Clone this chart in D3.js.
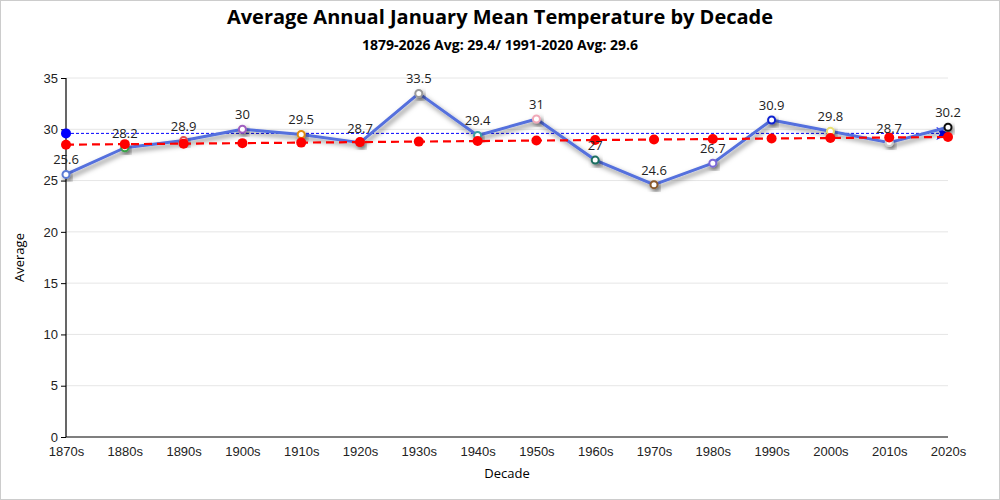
<!DOCTYPE html>
<html>
<head>
<meta charset="utf-8">
<script src="https://cdn.jsdelivr.net/npm/d3@7"></script>
<style>
  body { margin: 0; background: #fff; }
  svg { display: block; font-family: "Segoe UI", "Open Sans", "Noto Sans", sans-serif; }
</style>
</head>
<body>
<svg id="chart" width="1000" height="500"></svg>
<script>
// data
var decades = ["1870s","1880s","1890s","1900s","1910s","1920s","1930s","1940s",
               "1950s","1960s","1970s","1980s","1990s","2000s","2010s","2020s"];
var averages = [25.6, 28.2, 28.9, 30, 29.5, 28.7, 33.5, 29.4, 31, 27, 24.6, 26.7, 30.9, 29.8, 28.7, 30.2];
var trend = [28.5, 28.55, 28.6, 28.65, 28.7, 28.75, 28.8, 28.85, 28.9, 28.95, 29.0, 29.05, 29.1, 29.15, 29.2, 29.25];
var pointColors = ["#5b7bd5","#3ba24a","#e05050","#a05ec0","#e08a10","#888888","#999999","#3aa0a0",
                   "#f0a8b8","#1f6f60","#8b5a2b","#7a68d8","#1020d0","#e8e070","#cccccc","#111111"];
var normal = 29.6;
var yTicks = [0, 5, 10, 15, 20, 25, 30, 35];

var svg = d3.select("#chart");
var margin = {left: 66, right: 52, top: 78, bottom: 63};
var W = 1000, H = 500;

// border
svg.append("rect")
  .attr("x", 0.5).attr("y", 0.5)
  .attr("width", W - 1).attr("height", H - 1)
  .attr("fill", "#fff").attr("stroke", "#ccc");

var x = d3.scalePoint().domain(decades).range([margin.left, W - margin.right]);
var y = d3.scaleLinear().domain([0, 35]).range([H - margin.bottom, margin.top]);

var defs = svg.append("defs");
var f = defs.append("filter").attr("id", "shadow")
  .attr("x", "-50%").attr("y", "-50%").attr("width", "200%").attr("height", "200%");
f.append("feDropShadow").attr("dx", 2).attr("dy", 3).attr("stdDeviation", 2.5)
  .attr("flood-color", "#000").attr("flood-opacity", 0.5);
defs.append("marker").attr("id", "arrow")
  .attr("viewBox", "0 0 10 10").attr("refX", 9).attr("refY", 5)
  .attr("markerWidth", 16).attr("markerHeight", 13).attr("markerUnits", "userSpaceOnUse")
  .attr("orient", "auto")
  .append("path").attr("d", "M0,0 L10,5 L0,10 L3,5 Z").attr("fill", "#0000ff");

// grid
svg.append("g").selectAll("line").data(yTicks.slice(1)).join("line")
  .attr("x1", margin.left).attr("x2", W - margin.right)
  .attr("y1", d => y(d)).attr("y2", d => y(d))
  .attr("stroke", "#e6e6e6");

// titles
svg.append("text").attr("x", W / 2).attr("y", 24).attr("text-anchor", "middle")
  .attr("font-size", 20).attr("font-weight", "bold")
  .text("Average Annual January Mean Temperature by Decade");
svg.append("text").attr("x", W / 2).attr("y", 50).attr("text-anchor", "middle")
  .attr("font-size", 14).attr("font-weight", "bold")
  .text("1879-2026 Avg: 29.4/ 1991-2020 Avg: 29.6");

// axes
var yAxis = svg.append("g").attr("transform", "translate(" + margin.left + ",0)")
  .call(d3.axisLeft(y).tickValues(yTicks).tickSize(5).tickPadding(3));
yAxis.select(".domain").attr("d", "M0," + y(35) + "V" + y(0));
yAxis.selectAll("text").attr("font-size", 13).attr("fill", "#222").attr("font-family", null);

var xAxis = svg.append("g").attr("transform", "translate(0," + y(0) + ")")
  .call(d3.axisBottom(x).tickSize(0).tickPadding(10));
xAxis.select(".domain").attr("d", "M" + margin.left + ",0H" + (W - margin.right));
xAxis.selectAll("text").attr("font-size", 13).attr("fill", "#222").attr("font-family", null);
svg.selectAll(".domain").attr("stroke", "#000").attr("stroke-width", 1.2);

svg.append("text").attr("x", (margin.left + W - margin.right) / 2).attr("y", 478)
  .attr("text-anchor", "middle").attr("font-size", 13).text("Decade");
svg.append("text").attr("transform", "translate(24," + ((margin.top + H - margin.bottom) / 2) + ") rotate(-90)")
  .attr("text-anchor", "middle").attr("font-size", 13).text("Average");

// normal line
svg.append("line")
  .attr("x1", x(decades[0])).attr("x2", x(decades[decades.length - 1]))
  .attr("y1", y(normal)).attr("y2", y(normal))
  .attr("stroke", "#0000ff").attr("stroke-width", 1).attr("stroke-dasharray", "3,2")
  .attr("marker-end", "url(#arrow)");
svg.append("circle").attr("cx", x(decades[0])).attr("cy", y(normal)).attr("r", 5).attr("fill", "#0000ff");

// main line
var line = d3.line().x((d, i) => x(decades[i])).y(d => y(d));
svg.append("path").datum(averages)
  .attr("d", line).attr("fill", "none")
  .attr("stroke", "#5470dd").attr("stroke-width", 3).attr("stroke-linejoin", "round")
  .attr("filter", "url(#shadow)");
svg.append("g").selectAll("circle").data(averages).join("circle")
  .attr("cx", (d, i) => x(decades[i])).attr("cy", d => y(d)).attr("r", 3.5)
  .attr("fill", "#fff").attr("stroke", (d, i) => pointColors[i]).attr("stroke-width", 2)
  .attr("filter", "url(#shadow)");

// trend line
var tline = d3.line().x((d, i) => x(decades[i])).y(d => y(d));
svg.append("path").datum(trend)
  .attr("d", tline).attr("fill", "none")
  .attr("stroke", "#ff0000").attr("stroke-width", 2.2).attr("stroke-dasharray", "8,5");
svg.append("g").selectAll("circle").data(trend).join("circle")
  .attr("cx", (d, i) => x(decades[i])).attr("cy", d => y(d)).attr("r", 5)
  .attr("fill", "#ff0000");

// labels
svg.append("g").selectAll("text").data(averages).join("text")
  .attr("x", (d, i) => x(decades[i])).attr("y", d => y(d) - 10)
  .attr("text-anchor", "middle").attr("font-size", 13).attr("fill", "#222")
  .text(d => d);
</script>
</body>
</html>
